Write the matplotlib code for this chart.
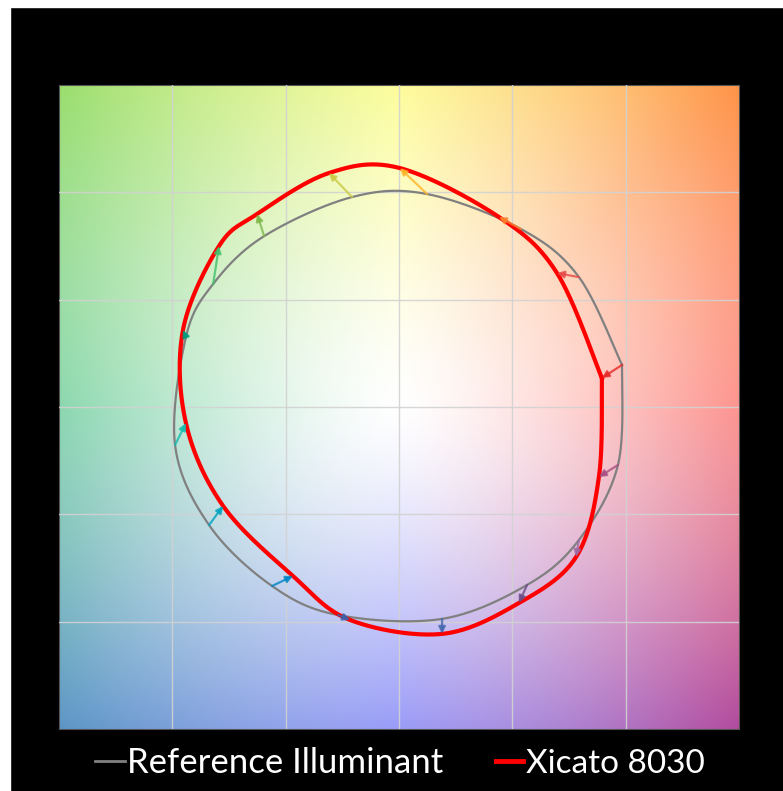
import numpy as np
import matplotlib
matplotlib.use("Agg")
import matplotlib.pyplot as plt
from matplotlib.colors import to_rgb
from matplotlib.lines import Line2D
from matplotlib.patches import Rectangle

# ──────────────────────────────────────────────────────────────
# Data: normalized a', b' per hue bin
# ──────────────────────────────────────────────────────────────
bins = list(range(1, 17))
ref_a = [0.984, 0.794, 0.538, 0.124, -0.207, -0.595, -0.820, -0.940,
         -0.988, -0.838, -0.560, -0.269, 0.190, 0.565, 0.794, 0.966]
ref_b = [0.196, 0.605, 0.829, 0.992, 0.978, 0.796, 0.573, 0.326,
         -0.177, -0.550, -0.834, -0.969, -0.987, -0.829, -0.619, -0.270]
test_a = [0.895, 0.697, 0.441, 0.004, -0.309, -0.626, -0.794, -0.953,
          -0.940, -0.776, -0.468, -0.216, 0.190, 0.529, 0.781, 0.882]
test_b = [0.135, 0.624, 0.885, 1.113, 1.090, 0.899, 0.750, 0.359,
          -0.075, -0.461, -0.787, -0.992, -1.057, -0.913, -0.699, -0.326]
bin_colors = ["#e62828", "#e74b4b", "#fb812e", "#ffb529", "#cbca46", "#7eb94c",
              "#41c06d", "#009c7c", "#16bcb0", "#00a4bf", "#0085c3", "#3b62aa",
              "#4568ae", "#6a4e85", "#9d69a1", "#a74f81"]

# background: colour seen at the edge of the square, every 45 deg
hue_angles = np.arange(0, 360, 45.0)
edge_colors = ["#fd9590", "#ff9448", "#fdfd9c", "#9ade6e",
               "#8cd8b0", "#5c96c6", "#9a9cf8", "#b24c9e"]

series_names = ["Reference Illuminant", "Xicato 8030"]


def smooth_closed(x, y, n=40):
    # Excel-style smoothed line: series bin1..bin16, bin1 (open ends -> corner at bin 1)
    pts = np.column_stack([x + x[:1], y + y[:1]])
    pts = np.vstack([pts[:1], pts, pts[-1:]])
    t = np.linspace(0, 1, n, endpoint=False)[:, None]
    out = []
    for i in range(1, len(pts) - 2):
        p0, p1, p2, p3 = pts[i - 1], pts[i], pts[i + 1], pts[i + 2]
        seg = 0.5 * (2 * p1 + (-p0 + p2) * t
                     + (2 * p0 - 5 * p1 + 4 * p2 - p3) * t ** 2
                     + (-p0 + 3 * p1 - 3 * p2 + p3) * t ** 3)
        out.append(seg)
    out.append(pts[-2:-1])
    out = np.vstack(out)
    return out[:, 0], out[:, 1]


W, H = 783, 791
fig = plt.figure(figsize=(W / 100, H / 100), dpi=100, facecolor="black")
fig.add_artist(Rectangle((0, 1 - 7 / H), 1, 7 / H, transform=fig.transFigure,
                         color="white", zorder=0))
fig.add_artist(Rectangle((0, 0), 10 / W, 1, transform=fig.transFigure,
                         color="white", zorder=0))

ax = fig.add_axes([59 / W, (H - 729) / H, 680 / W, 644 / H])

# background gradient: saturation grows with radius, full at the corners
P = 1.3
RC = 1.5 * np.sqrt(2)
edge = np.array([to_rgb(c) for c in edge_colors])
a_rad = np.radians(hue_angles)
r_edge = 1.5 / np.maximum(np.abs(np.cos(a_rad)), np.abs(np.sin(a_rad)))
full = np.clip(1 - (1 - edge) / ((r_edge / RC) ** P)[:, None], 0, 1)
full = np.vstack([full, full[:1]])
angs = np.append(hue_angles, 360)

n = 400
g = np.linspace(-1.5, 1.5, n)
X, Y = np.meshgrid(g, g)
theta = np.degrees(np.arctan2(Y, X)) % 360
s = np.clip(np.hypot(X, Y) / RC, 0, 1) ** P
img = np.zeros((n, n, 3))
for k in range(3):
    img[..., k] = 1 - (1 - np.interp(theta, angs, full[:, k])) * s
ax.imshow(img, extent=[-1.5, 1.5, -1.5, 1.5], origin="lower",
          interpolation="bilinear", aspect="auto", zorder=0)

ax.set_xlim(-1.5, 1.5)
ax.set_ylim(-1.5, 1.5)
ticks = [-1, -0.5, 0, 0.5, 1]
ax.set_xticks(ticks)
ax.set_yticks(ticks)
ax.tick_params(length=0, labelleft=False, labelbottom=False)
ax.grid(True, color="#d2d2d2", linewidth=1, alpha=0.9, zorder=1)
ax.set_axisbelow(False)
for sp in ax.spines.values():
    sp.set_color("#555555")
    sp.set_linewidth(0.8)

rx, ry = smooth_closed(ref_a, ref_b)
tx, ty = smooth_closed(test_a, test_b)
ax.plot(rx, ry, color="#808080", linewidth=1.6, zorder=3)
ax.plot(tx, ty, color="#ff0000", linewidth=3, zorder=4)

for i in range(len(bins)):
    ax.annotate("", xy=(test_a[i], test_b[i]), xytext=(ref_a[i], ref_b[i]),
                arrowprops=dict(arrowstyle="-|>", color=bin_colors[i], lw=1.6,
                                alpha=0.8, shrinkA=0, shrinkB=0,
                                mutation_scale=10),
                zorder=5)

# legend below the plot
fonts = ["Lato", "DejaVu Sans"]
ly = (H - 761) / H
fig.add_artist(Line2D([95 / W, 125 / W], [ly, ly], color="#808080", lw=2,
                      transform=fig.transFigure))
fig.text(127 / W, (H - 773) / H, series_names[0], color="white", fontsize=25,
         family=fonts, va="baseline", ha="left")
fig.add_artist(Line2D([496 / W, 523 / W], [ly, ly], color="#ff0000", lw=3.5,
                      transform=fig.transFigure))
fig.text(526 / W, (H - 773) / H, series_names[1], color="white", fontsize=24,
         family=fonts, va="baseline", ha="left")

fig.savefig("out.png", dpi=100, facecolor="black")
